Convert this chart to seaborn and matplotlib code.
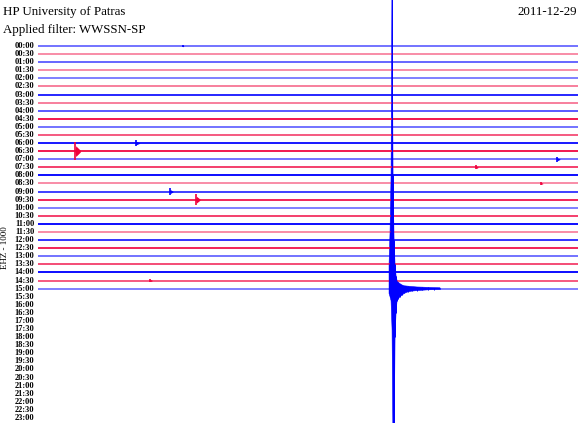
"""plot.py

Helicorder style seismogram for one day, redrawn with seaborn / matplotlib.
"""

import matplotlib.pyplot as plt
import pandas as pd
import seaborn as sns

# Data
row_labels = ['%02d:%02d' % (h, m) for h in range(24) for m in (0, 30)][:47]

# trace intensity per recorded row (00:00 .. 15:00)
trace_shade = [0.55, 0.45, 0.6, 0.45, 0.5, 0.5, 0.85, 0.5, 0.65, 0.9,
               0.55, 0.65, 0.9, 0.9, 0.55, 0.75, 0.95, 0.45, 0.75, 0.85,
               0.5, 0.75, 0.95, 0.45, 0.8, 0.85, 0.55, 0.7, 0.95, 0.65,
               0.5]

# small local events: row, minute in the row, amplitude (rows), length (min)
event_row = [12, 13, 14, 15, 17, 18, 19, 29, 0]
event_min = [5.4, 2.05, 28.8, 24.3, 27.9, 7.3, 8.75, 6.2, 8.0]
event_amp = [0.35, 1.1, 0.3, 0.25, 0.2, 0.4, 0.7, 0.2, 0.15]
event_len = [0.25, 0.3, 0.2, 0.15, 0.15, 0.2, 0.25, 0.15, 0.1]

# the big teleseism in the 15:00 row
quake_row = 30
quake_onset_min = 19.67
quake_offset_s = [-10, -6.7, -3.3, 0, 3.3, 6.7, 10, 13.3, 16.7, 20,
                  26.7, 33.3, 40, 53, 67, 83, 100, 120, 140, 160]
quake_up = [3.0, 7, 14, 40, 14, 6, 3.0, 1.6, 1.0, 0.8,
            0.6, 0.45, 0.35, 0.3, 0.25, 0.2, 0.18, 0.15, 0.12, 0.1]
quake_down = [0.6, 1.0, 1.5, 5, 20, 20, 6, 3, 1.5, 1.3,
              1.0, 0.8, 0.6, 0.4, 0.3, 0.25, 0.2, 0.15, 0.12, 0.1]

BLUE = '#0000ff'
RED = '#f0003c'

sns.set_theme(style='white')
plt.rcParams['font.family'] = ['Liberation Serif', 'DejaVu Serif']

fig = plt.figure(figsize=(5.8, 4.23), dpi=100)
ax = fig.add_axes([38 / 580, 0, 540 / 580, 1])

# Build one long table of trace end points
records = []
for row, shade in enumerate(trace_shade):
    for t in (0, 30):
        records.append({'row': row, 'minute': t, 'level': row})
traces = pd.DataFrame(records)
palette = {row: (BLUE if row % 2 == 0 else RED) for row in range(len(trace_shade))}

sns.lineplot(data=traces, x='minute', y='level', hue='row', units='row',
             estimator=None, palette=palette, linewidth=1.4, legend=False, ax=ax)
for line, shade in zip(ax.get_lines(), trace_shade):
    line.set_alpha(shade)

# Small events
for row, t0, amp, length in zip(event_row, event_min, event_amp, event_len):
    colour = BLUE if row % 2 == 0 else RED
    ax.fill_between([t0, t0 + 0.05, t0 + length], [row, row - amp * 0.6, row - amp * 0.1],
                    [row, row + amp * 0.6, row + amp * 0.1], color=colour, linewidth=0)
    ax.vlines(t0 + 0.03, row - amp, row + amp, color=colour, linewidth=1.2)

# Big earthquake
quake_t = [quake_onset_min + s / 60 for s in quake_offset_s]
quake_top = [quake_row - u for u in quake_up]
quake_bottom = [quake_row + d for d in quake_down]
ax.fill_between(quake_t, quake_top, quake_bottom, color=BLUE, linewidth=0.4)
ax.vlines(quake_t, quake_top, quake_bottom, color=BLUE, linewidth=0.7)

ax.set_xlim(0, 30)
ax.set_ylim(46.62, -5.69)
ax.axis('off')

# Row labels
for row, label in enumerate(row_labels):
    ax.text(-0.2, row, label, ha='right', va='center', fontsize=6,
            color='black', fontweight='bold', clip_on=False)

# Header texts
fig.text(3 / 580, 1 - 12 / 423, 'HP University of Patras', fontsize=9.3,
         va='center', ha='left', color='black')
fig.text(3 / 580, 1 - 30 / 423, 'Applied filter: WWSSN-SP', fontsize=9.3,
         va='center', ha='left', color='black')
fig.text(577 / 580, 1 - 12 / 423, '2011-12-29', fontsize=9.3,
         va='center', ha='right', color='black')
fig.text(5 / 580, 1 - 248 / 423, 'EHZ - 1000', fontsize=6.5, rotation=90,
         va='center', ha='center', color='black')

fig.savefig('out.png', dpi=100)
